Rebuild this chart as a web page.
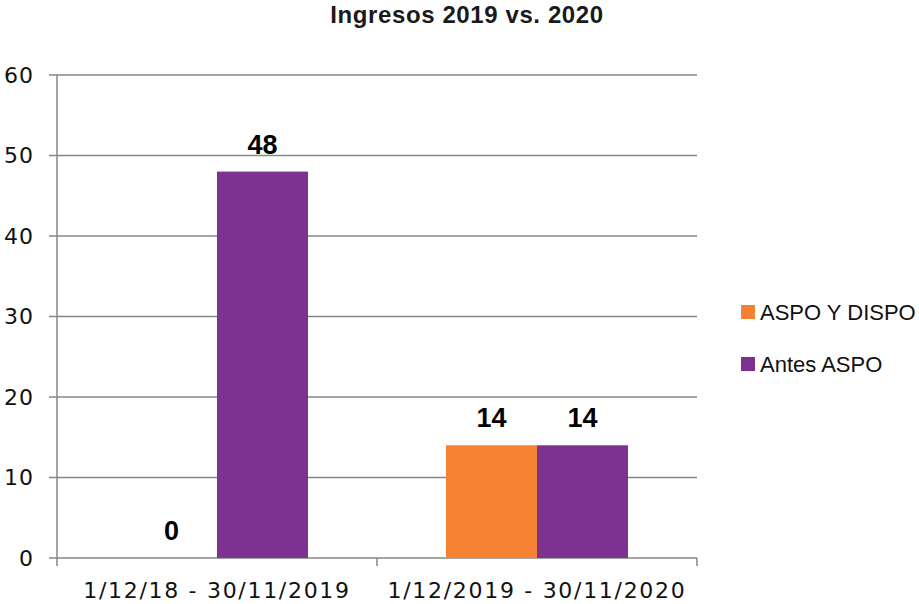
<!DOCTYPE html>
<html>
<head>
<meta charset="utf-8">
<script src="https://cdn.jsdelivr.net/npm/d3@7"></script>
<style>
  body { margin: 0; background: #fff; }
  svg { display: block; }
</style>
</head>
<body>
<div id="chart"></div>
<script>
// Data
const categories = ["1/12/18 - 30/11/2019", "1/12/2019 - 30/11/2020"];
const seriesNames = ["ASPO Y DISPO", "Antes ASPO"];
const aspoDispo = [0, 14];
const antesAspo = [48, 14];
const yTicks = [0, 10, 20, 30, 40, 50, 60];
const colors = ["#F58232", "#7D3190"];

const width = 919;
const height = 604;
const margin = { top: 75, right: 222, bottom: 46, left: 57 };

const svg = d3
  .select("#chart")
  .append("svg")
  .attr("width", width)
  .attr("height", height);

// Scales
const xScale = d3
  .scaleBand()
  .domain(categories)
  .range([margin.left, width - margin.right])
  .padding(0);

const xSub = d3
  .scaleBand()
  .domain(seriesNames)
  .range([0, xScale.bandwidth()])
  .paddingInner(0)
  .paddingOuter(0.758);

const yScale = d3
  .scaleLinear()
  .domain([0, 60])
  .range([height - margin.bottom, margin.top]);

const gridColor = "#878787";

// Gridlines
svg
  .append("g")
  .selectAll("line")
  .data(yTicks)
  .enter()
  .append("line")
  .attr("x1", margin.left - 8)
  .attr("x2", width - margin.right)
  .attr("y1", (d) => yScale(d))
  .attr("y2", (d) => yScale(d))
  .attr("stroke", gridColor)
  .attr("stroke-width", 1.5);

// Y tick labels
svg
  .append("g")
  .selectAll("text")
  .data(yTicks)
  .enter()
  .append("text")
  .attr("x", 34)
  .attr("y", (d) => yScale(d))
  .attr("dy", "0.36em")
  .attr("text-anchor", "end")
  .style("font-family", "DejaVu Sans")
  .style("font-size", "22px")
  .style("letter-spacing", "1px")
  .attr("fill", "#111")
  .text((d) => d);

// Y axis line
svg
  .append("line")
  .attr("x1", margin.left)
  .attr("x2", margin.left)
  .attr("y1", yScale(60))
  .attr("y2", yScale(0) + 8)
  .attr("stroke", gridColor)
  .attr("stroke-width", 1.5);

// X axis boundary ticks
const boundaries = categories.map((c) => xScale(c)).concat([xScale(categories[categories.length - 1]) + xScale.bandwidth()]);
svg
  .append("g")
  .selectAll("line")
  .data(boundaries.slice(1))
  .enter()
  .append("line")
  .attr("x1", (d) => d)
  .attr("x2", (d) => d)
  .attr("y1", yScale(0))
  .attr("y2", yScale(0) + 8)
  .attr("stroke", gridColor)
  .attr("stroke-width", 1.5);

// Category labels
svg
  .append("g")
  .selectAll("text")
  .data(categories)
  .enter()
  .append("text")
  .attr("x", (d) => xScale(d) + xScale.bandwidth() / 2)
  .attr("y", 598)
  .attr("text-anchor", "middle")
  .style("font-family", "DejaVu Sans")
  .style("font-size", "22px")
  .style("letter-spacing", "1.7px")
  .attr("fill", "#111")
  .text((d) => d);

// Bars
const seriesValues = [aspoDispo, antesAspo];
const rows = [];
categories.forEach((c, i) => {
  seriesNames.forEach((s, j) => {
    rows.push({ cat: c, series: s, value: seriesValues[j][i], color: colors[j] });
  });
});

svg
  .append("g")
  .selectAll("rect")
  .data(rows)
  .enter()
  .append("rect")
  .attr("x", (d) => xScale(d.cat) + xSub(d.series))
  .attr("y", (d) => yScale(d.value))
  .attr("width", xSub.bandwidth())
  .attr("height", (d) => yScale(0) - yScale(d.value))
  .attr("fill", (d) => d.color);

// Value labels
svg
  .append("g")
  .selectAll("text")
  .data(rows)
  .enter()
  .append("text")
  .attr("x", (d) => xScale(d.cat) + xSub(d.series) + xSub.bandwidth() / 2)
  .attr("y", (d) => yScale(d.value) - 18)
  .attr("text-anchor", "middle")
  .style("font-family", "Liberation Sans, Arial, sans-serif")
  .style("font-weight", "bold")
  .style("font-size", "27px")
  .attr("fill", "#000")
  .text((d) => d.value);

// Title
svg
  .append("text")
  .attr("x", 467)
  .attr("y", 23)
  .attr("text-anchor", "middle")
  .style("font-family", "Liberation Sans, Arial, sans-serif")
  .style("font-weight", "bold")
  .style("font-size", "24px")
  .style("letter-spacing", "0.6px")
  .attr("fill", "#1a1a1a")
  .text("Ingresos 2019 vs. 2020");

// Legend
const legend = svg
  .append("g")
  .selectAll("g")
  .data(seriesNames)
  .enter()
  .append("g")
  .attr("transform", (d, i) => `translate(741, ${305 + i * 52})`);

legend
  .append("rect")
  .attr("width", 14)
  .attr("height", 14)
  .attr("fill", (d, i) => colors[i]);

legend
  .append("text")
  .attr("x", 19)
  .attr("y", 15)
  .style("font-family", "Liberation Sans, Arial, sans-serif")
  .style("font-size", "22px")
  .attr("fill", "#111")
  .text((d) => d);
</script>
</body>
</html>
